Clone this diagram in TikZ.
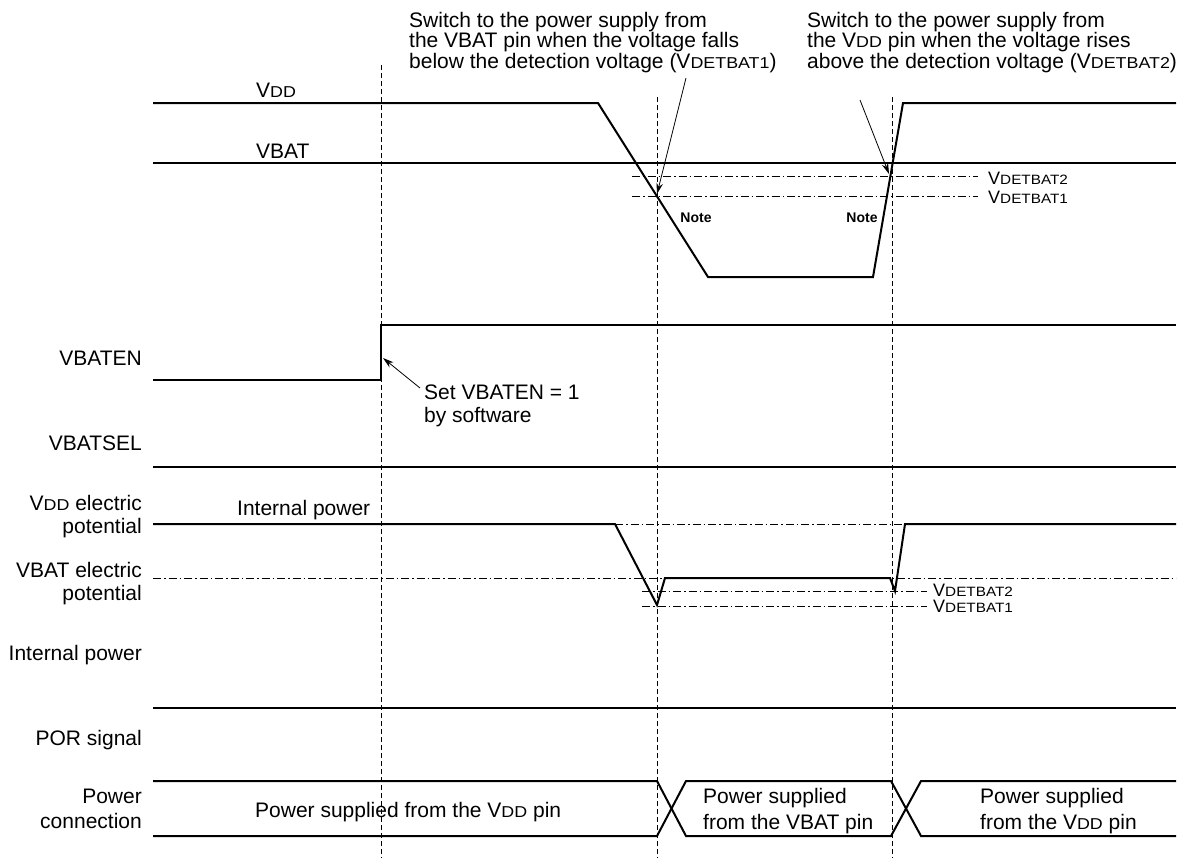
\documentclass[tikz,border=0pt]{standalone}
\usepackage{fontspec}
\setmainfont{Liberation Sans}
\usetikzlibrary{arrows.meta, positioning}
\newcommand{\smallsub}[1]{\scalebox{0.85}[0.75]{#1}}
\newcommand{\Vdd}{V\smallsub{DD}}
\newcommand{\Vdet}[1]{V\smallsub{DETBAT#1}}

\begin{document}
\begin{tikzpicture}[x=1pt, y=-1pt,
  font=\fontsize{21}{20.5}\selectfont,
  wave/.style={line width=2pt},
  cursor/.style={line width=0.9pt, dash pattern=on 5pt off 3pt},
  refline/.style={line width=0.9pt, dash pattern=on 8pt off 3pt on 1.5pt off 3pt},
  pointer/.style={line width=0.8pt, -{Stealth[length=11pt, width=6.5pt]}},
  txt/.style={inner sep=0pt},
  lvl/.style={inner sep=0pt, font=\fontsize{18}{18}\selectfont},
  note/.style={inner sep=0pt, font=\fontsize{14}{14}\selectfont\bfseries}]

\useasboundingbox (0,0) rectangle (1180,860);

% Cursors
\draw[cursor] (381,65) -- (381,858);
\draw[cursor] (657,97) -- (657,858);
\draw[cursor] (892,97) -- (892,858);

% Callouts at the top
\node[txt, anchor=north west, align=left] (falltxt) at (409,12)
  {Switch to the power supply from\\the VBAT pin when the voltage falls\\below the detection voltage (\Vdet1)};
\node[txt, anchor=north west, align=left] (risetxt) at (807,12)
  {Switch to the power supply from\\the \Vdd{} pin when the voltage rises\\above the detection voltage (\Vdet2)};
\coordinate (fallfrom) at (686,78);
\coordinate (fallx) at (657,194);
\coordinate (risefrom) at (860,100);
\coordinate (risex) at (889,174);
\draw[pointer] (fallfrom) -- (fallx);
\draw[pointer] (risefrom) -- (risex);

% VDD and VBAT
\draw[wave] (153,103) -- (598,103) -- (708,277) -- (873,277) -- (903,103) -- (1176,103);
\draw[wave] (153,163) -- (1176,163);
\node[txt, anchor=base west] (vddlbl) at (256,97) {\Vdd};
\node[txt, anchor=base west] (vbatlbl) at (256,158) {VBAT};
\draw[refline] (632,176) -- (978,176);
\draw[refline] (632,196) -- (978,196);
\node[lvl, anchor=base west] (topdet2) at (988,184) {\Vdet2};
\node[lvl, anchor=base west] (topdet1) at (988,203) {\Vdet1};
\node[note] (fallnote) at (696,218) {Note};
\node[note] (risenote) at (862,218) {Note};

% VBATEN
\draw[wave] (153,380) -- (381,380) -- (381,325) -- (1176,325);
\node[txt, anchor=base east] (enlbl) at (142,365) {VBATEN};
\coordinate (enedge) at (383,358);
\coordinate (setfrom) at (420,388);
\draw[pointer] (setfrom) -- (enedge);
\node[txt, anchor=north west, align=left, font=\fontsize{21}{23}\selectfont] (settxt) at (424,385)
  {Set VBATEN = 1\\by software};

% VBATSEL
\draw[wave] (153,467) -- (1176,467);
\node[txt, anchor=base east] (sellbl) at (142,450) {VBATSEL};

% Internal power
\draw[refline] (153,578) -- (1176,578);
\draw[refline] (615,524) -- (905,524);
\draw[refline] (642,591) -- (927,591);
\draw[refline] (642,606) -- (927,606);
\draw[wave] (153,524) -- (615,524) -- (657,605) -- (665,578) -- (890,578) -- (895,591) -- (905,524) -- (1176,524);
\node[txt, anchor=base west] (intlbl) at (237,515) {Internal power};
\node[lvl, anchor=base west] (middet2) at (933,596) {\Vdet2};
\node[lvl, anchor=base west] (middet1) at (933,612) {\Vdet1};
\node[txt, anchor=north east, align=right, font=\fontsize{21}{23}\selectfont] (vddpot) at (142,495)
  {\Vdd{} electric\\potential};
\node[txt, anchor=north east, align=right, font=\fontsize{21}{23}\selectfont] (vbatpot) at (142,562)
  {VBAT electric\\potential};
\node[txt, anchor=base east] (intpwr) at (142,660) {Internal power};

% POR signal
\draw[wave] (153,708) -- (1176,708);
\node[txt, anchor=base east] (porlbl) at (142,745) {POR signal};

% Power connection
\draw[wave] (153,781) -- (657,781) -- (686,836) -- (891,836) -- (921,781) -- (1176,781);
\draw[wave] (153,836) -- (657,836) -- (686,781) -- (891,781) -- (921,836) -- (1176,836);
\node[txt, anchor=north east, align=right, font=\fontsize{21}{25}\selectfont] (conlbl) at (142,789)
  {Power\\connection};
\node[txt, anchor=base west] (fromvdd) at (255,817) {Power supplied from the \Vdd{} pin};
\node[txt, anchor=north west, align=left, font=\fontsize{21}{26}\selectfont] (fromvbat) at (703,788)
  {Power supplied\\from the VBAT pin};
\node[txt, anchor=north west, align=left, font=\fontsize{21}{26}\selectfont] (fromvdd2) at (980,788)
  {Power supplied\\from the \Vdd{} pin};

\end{tikzpicture}
\end{document}
